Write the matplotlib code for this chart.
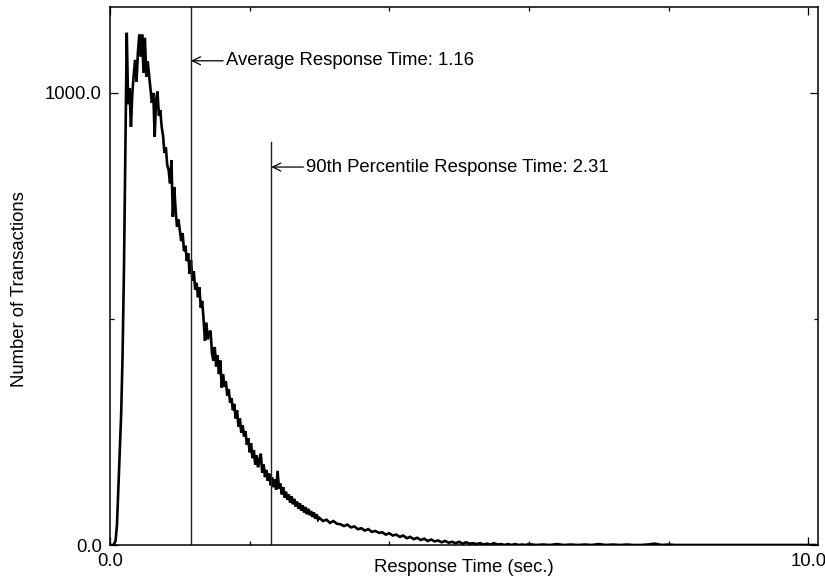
import numpy as np
import matplotlib
matplotlib.use("Agg")
import matplotlib.pyplot as plt
from matplotlib.ticker import FixedLocator, NullFormatter

plt.rcParams['font.family'] = ['Liberation Sans', 'DejaVu Sans']

# Fine bins 0.00 .. 2.98 (step 0.02)
counts_fine = [
    0, 0, 0, 2, 10, 45, 125, 200, 290, 420,
    610, 880, 1133, 975, 1010, 925, 1000, 1040, 1073, 1025,
    1090, 1129, 1080, 1129, 1044, 1122, 1036, 1070, 1040, 1010,
    978, 1000, 903, 985, 1003, 950, 962, 925, 905, 867,
    880, 840, 829, 800, 851, 726, 792, 740, 704, 720,
    696, 672, 690, 650, 662, 628, 645, 600, 630, 585,
    605, 565, 580, 548, 570, 525, 540, 500, 452, 492,
    455, 470, 474, 425, 408, 438, 395, 420, 378, 408,
    348, 378, 350, 362, 330, 345, 315, 325, 298, 312,
    280, 298, 262, 280, 248, 265, 240, 252, 222, 236,
    205, 225, 192, 210, 178, 198, 172, 188, 202, 160,
    178, 150, 166, 142, 158, 132, 150, 128, 145, 122,
    164, 125, 136, 112, 128, 105, 118, 100, 112, 94,
    108, 90, 102, 85, 96, 80, 92, 76, 88, 72,
    84, 68, 80, 66, 75, 62, 72, 58, 68, 56,
]
# Medium bins 3.00 .. 5.95 (step 0.05)
counts_mid = [
    60, 53, 56, 49, 53, 47, 46, 42, 45, 39,
    41, 35, 37, 32, 35, 29, 31, 27, 28, 23,
    26, 21, 23, 18, 21, 15, 18, 13, 16, 11,
    14, 9, 12, 8, 10, 6, 9, 5, 7, 4,
    7, 3, 6, 3, 4, 2, 4, 1, 3, 1,
    4, 1, 2, 0, 2, 0, 2, 0, 1, 0,
]
# Coarse bins 6.0 .. 10.1 (step 0.1)
counts_tail = [
    2, 0, 1, 0, 2, 0, 1, 0, 1, 0,
    2, 0, 1, 0, 1, 0, 0, 1, 3, 0,
    1, 0, 0, 0, 0, 0, 0, 0, 0, 0,
    0, 0, 0, 0, 0, 0, 0, 0, 0, 0,
    0, 0,
]

avg_time = 1.16
p90_time = 2.31
avg_label = "Average Response Time: 1.16"
p90_label = "90th Percentile Response Time: 2.31"
x_ticklabels = ["0.0", "10.0"]
y_ticklabels = ["0.0", "1000.0"]

t_fine = np.arange(len(counts_fine)) * 0.02
t_mid = 3.0 + np.arange(len(counts_mid)) * 0.05
t_tail = 6.0 + np.arange(len(counts_tail)) * 0.1
t = np.concatenate([t_fine, t_mid, t_tail])
counts = np.array(counts_fine + counts_mid + counts_tail, dtype=float)

FS = 13.3
fig = plt.figure(figsize=(8.25, 5.83), dpi=100)
ax = fig.add_axes([110/825, 38/583, 708/825, 538/583])

ax.plot(t, counts, color='black', lw=1.9, solid_joinstyle='miter')

ax.set_xlim(0, 10.14)
ax.set_ylim(0, 1190)

ax.axvline(avg_time, color='#222222', lw=1.0)
ax.plot([p90_time, p90_time], [0, 891], color='#222222', lw=1.0)

arrow_kw = dict(arrowstyle='->,head_length=0.45,head_width=0.22', color='black',
                lw=0.9, shrinkA=0, shrinkB=0, mutation_scale=13)
ax.annotate(avg_label, xy=(avg_time, 1071), xytext=(1.66, 1071),
            ha='left', va='center', fontsize=FS, arrowprops=arrow_kw)
ax.annotate(p90_label, xy=(p90_time, 836), xytext=(2.81, 836),
            ha='left', va='center', fontsize=FS, arrowprops=arrow_kw)

ax.xaxis.set_major_locator(FixedLocator([0, 10]))
ax.xaxis.set_minor_locator(FixedLocator([2, 4, 6, 8]))
ax.set_xticklabels(x_ticklabels)
ax.yaxis.set_major_locator(FixedLocator([0, 1000]))
ax.yaxis.set_minor_locator(FixedLocator([500]))
ax.set_yticklabels(y_ticklabels)
ax.xaxis.set_minor_formatter(NullFormatter())
ax.yaxis.set_minor_formatter(NullFormatter())

ax.tick_params(which='both', direction='in', top=True, right=True,
               labelsize=FS, width=0.9, color='black')
ax.tick_params(which='major', length=5.5, pad=6)
ax.tick_params(which='minor', length=3)

for s in ax.spines.values():
    s.set_linewidth(1.1)
    s.set_color('black')

fig.text(464/825, 1 - 567/583, "Response Time (sec.)", ha='center', va='center', fontsize=FS)
fig.text(20/825, 1 - 289/583, "Number of Transactions", ha='center', va='center',
         rotation=90, fontsize=FS)

fig.savefig("out.png", dpi=100)
